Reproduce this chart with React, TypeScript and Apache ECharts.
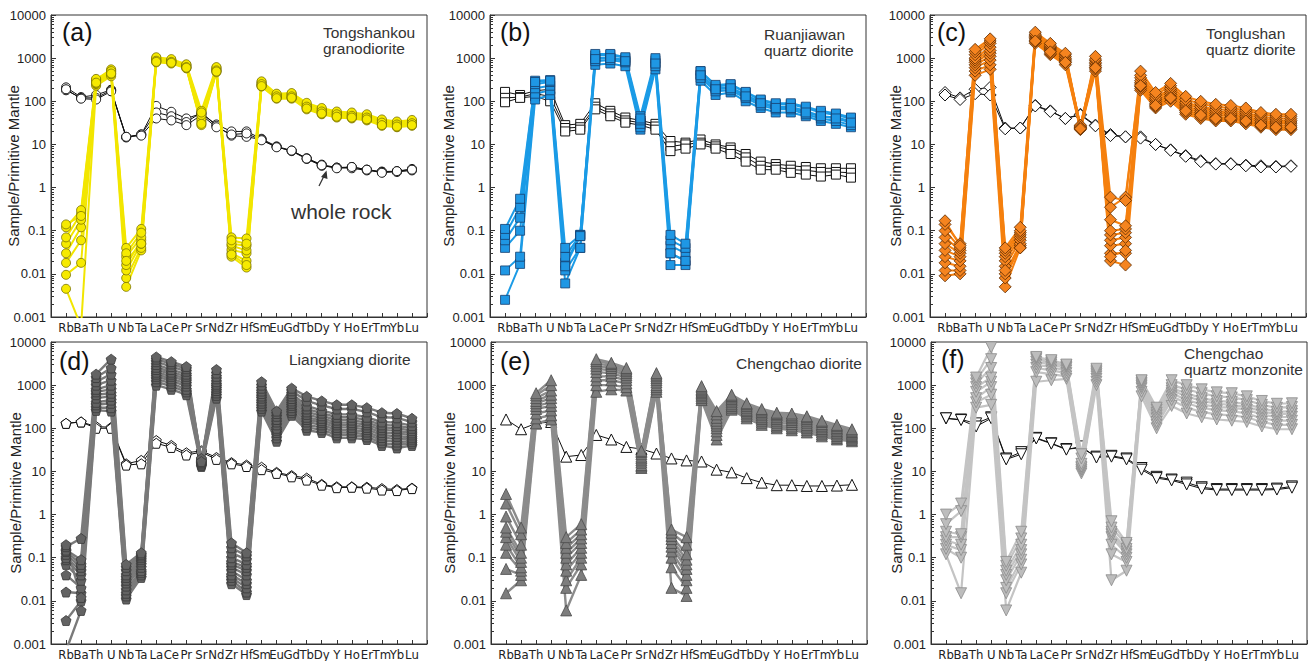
import React, { useEffect, useRef } from "react";
import * as echarts from "echarts";

// ---------- categories & tick labels ----------
const ELEMENTS = ["Rb", "Ba", "Th", "U", "Nb", "Ta", "La", "Ce", "Pr", "Sr", "Nd", "Zr", "Hf", "Sm", "Eu", "Gd", "Tb", "Dy", "Y", "Ho", "Er", "Tm", "Yb", "Lu"];
const Y_TICK_LABELS = ["0.001", "0.01", "0.1", "1", "10", "100", "1000", "10000"];

// ---------- (a) Tongshankou granodiorite ----------
const tongshankouRock = [
  [210, 125, 140, 185, 15, 17, 78, 57, 40, 52, 29, 20, 20, 13.5, 9, 7.2, 4.8, 3.4, 2.9, 3.0, 2.6, 2.35, 2.4, 2.7],
  [180, 120, 120, 180, 14.5, 17, 55, 45, 33, 55, 27, 16, 15, 13, 8.8, 7.0, 4.6, 3.2, 2.9, 2.8, 2.5, 2.3, 2.3, 2.5],
  [190, 115, 110, 170, 15, 16, 40, 36, 28, 48, 25, 17, 18, 12.5, 8.6, 7.2, 4.7, 3.3, 2.8, 3.0, 2.6, 2.2, 2.4, 2.6],
];
const tongshankouMineral = [
  [0.0045, 0.0006, 230, 380, 0.005, 0.035, 800, 750, 580, 28, 470, 0.025, 0.014, 220, 115, 115, 65, 50, 42, 40, 36, 27, 25, 27],
  [0.0095, 0.018, 250, 420, 0.008, 0.04, 850, 800, 600, 32, 500, 0.03, 0.02, 230, 120, 120, 70, 52, 45, 42, 38, 29, 26, 29],
  [0.018, 0.06, 260, 450, 0.012, 0.05, 900, 850, 640, 36, 530, 0.036, 0.03, 240, 125, 130, 72, 56, 48, 45, 40, 31, 28, 30],
  [0.03, 0.12, 280, 480, 0.016, 0.06, 950, 880, 680, 40, 560, 0.045, 0.035, 260, 135, 140, 78, 60, 50, 48, 44, 33, 30, 32],
  [0.05, 0.18, 300, 520, 0.025, 0.07, 1000, 900, 700, 48, 600, 0.05, 0.045, 280, 145, 150, 85, 66, 55, 52, 47, 36, 32, 35],
  [0.07, 0.25, 320, 550, 0.04, 0.11, 1050, 950, 720, 60, 620, 0.07, 0.066, 290, 150, 155, 92, 70, 58, 55, 50, 38, 34, 37],
  [0.12, 0.3, 330, 500, 0.03, 0.09, 870, 820, 620, 55, 520, 0.06, 0.05, 250, 130, 130, 75, 58, 50, 46, 42, 32, 29, 31],
  [0.14, 0.22, 270, 440, 0.02, 0.05, 820, 780, 600, 30, 490, 0.028, 0.016, 225, 118, 120, 68, 52, 44, 42, 38, 28, 26, 28],
];

// ---------- (b) Ruanjiawan quartz diorite ----------
const ruanjiawanRock = [
  [165, 140, 175, 190, 28, 30, 90, 60, 42, 36, 30, 12, 11, 13, 10, 8.5, 6, 4, 3.5, 3.2, 3, 2.8, 2.8, 2.8],
  [120, 125, 150, 130, 24, 25, 75, 52, 36, 32, 26, 9, 10, 11, 9, 7.5, 5, 3.2, 3, 2.6, 2.5, 2.3, 2.3, 2.2],
  [95, 120, 130, 100, 20, 22, 65, 45, 32, 28, 22, 7, 8, 10, 8, 6, 4, 2.6, 2.6, 2.2, 2, 1.8, 2, 1.7],
];
const ruanjiawanMineral = [
  [0.0025, 0.017, 110, 140, 0.006, 0.04, 700, 750, 650, 22, 550, 0.016, 0.016, 300, 140, 160, 100, 70, 55, 55, 45, 35, 30, 25],
  [0.012, 0.025, 150, 180, 0.012, 0.04, 850, 900, 800, 25, 650, 0.03, 0.02, 350, 170, 180, 120, 80, 65, 65, 50, 40, 35, 28],
  [0.04, 0.1, 200, 230, 0.018, 0.075, 1000, 1050, 900, 30, 800, 0.045, 0.03, 420, 200, 210, 140, 95, 75, 75, 60, 45, 42, 35],
  [0.06, 0.2, 250, 280, 0.025, 0.08, 1150, 1200, 1000, 36, 900, 0.06, 0.04, 500, 220, 240, 160, 105, 85, 85, 70, 55, 48, 40],
  [0.08, 0.35, 300, 310, 0.04, 0.08, 1250, 1250, 1050, 45, 1000, 0.08, 0.05, 500, 240, 250, 165, 110, 90, 90, 75, 60, 52, 42],
  [0.11, 0.55, 280, 300, 0.015, 0.075, 950, 1000, 850, 40, 750, 0.03, 0.02, 400, 190, 200, 130, 90, 70, 70, 55, 45, 40, 32],
];

// ---------- (c) Tonglushan quartz diorite ----------
const tonglushanRock = [
  [160, 120, 190, 210, 24, 24, 80, 60, 40, 50, 28, 17, 15, 15, 10, 7.5, 5.5, 4.2, 3.6, 3.6, 3.3, 3.2, 3.1, 3.2],
  [140, 110, 150, 140, 23, 24, 78, 58, 40, 48, 27, 16, 15, 14, 10, 7.3, 5.3, 4.0, 3.5, 3.5, 3.2, 3.0, 3.0, 3.1],
];
const tonglushanMineral = [
  [0.009, 0.01, 400, 550, 0.005, 0.04, 2200, 1200, 700, 22, 500, 0.02, 0.016, 180, 70, 100, 50, 40, 35, 35, 30, 25, 22, 22],
  [0.012, 0.012, 500, 700, 0.008, 0.045, 2400, 1300, 780, 23, 560, 0.03, 0.03, 200, 75, 115, 55, 44, 38, 38, 33, 27, 24, 24],
  [0.018, 0.015, 600, 900, 0.01, 0.05, 2600, 1450, 850, 24, 620, 0.045, 0.05, 220, 85, 130, 62, 50, 42, 42, 37, 30, 27, 27],
  [0.025, 0.02, 700, 1100, 0.015, 0.06, 2800, 1550, 900, 25, 680, 0.06, 0.07, 250, 90, 145, 70, 55, 47, 46, 41, 33, 30, 30],
  [0.035, 0.025, 800, 1300, 0.02, 0.07, 3000, 1650, 950, 26, 740, 0.08, 0.09, 270, 100, 160, 78, 60, 52, 50, 45, 36, 33, 33],
  [0.05, 0.03, 900, 1500, 0.025, 0.08, 3200, 1750, 1000, 27, 800, 0.1, 0.11, 300, 110, 180, 86, 68, 58, 55, 50, 40, 36, 36],
  [0.07, 0.035, 1000, 1800, 0.03, 0.09, 3400, 1850, 1100, 28, 880, 0.18, 0.13, 350, 120, 200, 95, 75, 65, 62, 55, 44, 40, 40],
  [0.1, 0.04, 1200, 2200, 0.035, 0.1, 3600, 2000, 1200, 24, 950, 0.35, 0.6, 400, 140, 230, 110, 88, 75, 70, 62, 50, 45, 45],
  [0.14, 0.05, 1400, 2500, 0.04, 0.12, 4000, 2200, 1300, 25, 1100, 0.6, 0.5, 500, 160, 260, 130, 100, 85, 80, 70, 55, 50, 50],
  [0.17, 0.045, 1600, 2800, 0.012, 0.04, 2500, 1400, 800, 23, 600, 0.025, 0.035, 230, 80, 120, 60, 48, 40, 40, 35, 28, 25, 25],
];

// ---------- (d) Liangxiang diorite ----------
const liangxiangRock = [
  [130, 140, 110, 105, 15, 18, 52, 40, 27, 30, 21, 16, 14, 12.5, 9.5, 8, 7, 5, 4.4, 4.4, 4.3, 4, 3.8, 4.1],
  [130, 140, 100, 100, 14, 15, 45, 36, 24, 28, 19, 15, 13, 11, 9, 7.5, 6.3, 4.8, 4.2, 4.3, 4.1, 3.7, 3.6, 4.0],
];
const liangxiangMineral = [
  [0.0007, 0.006, 260, 250, 0.011, 0.035, 1000, 800, 600, 13, 500, 0.025, 0.014, 250, 50, 200, 90, 80, 60, 60, 55, 40, 35, 40],
  [0.0035, 0.01, 300, 300, 0.013, 0.04, 1200, 950, 700, 14, 580, 0.03, 0.016, 290, 60, 230, 105, 92, 70, 70, 63, 46, 41, 45],
  [0.016, 0.015, 350, 380, 0.015, 0.045, 1400, 1100, 800, 15, 660, 0.035, 0.02, 330, 70, 260, 120, 105, 80, 80, 72, 53, 48, 50],
  [0.04, 0.02, 400, 450, 0.018, 0.05, 1600, 1250, 950, 16, 750, 0.04, 0.025, 380, 80, 300, 140, 120, 92, 92, 82, 61, 56, 56],
  [0.07, 0.03, 500, 550, 0.022, 0.06, 1800, 1400, 1100, 17, 850, 0.05, 0.03, 430, 90, 340, 160, 135, 105, 105, 93, 70, 65, 62],
  [0.09, 0.04, 600, 650, 0.026, 0.07, 2000, 1600, 1250, 18, 950, 0.06, 0.04, 500, 100, 380, 180, 150, 120, 120, 105, 80, 75, 70],
  [0.1, 0.05, 700, 800, 0.03, 0.08, 2300, 1800, 1400, 19, 1050, 0.07, 0.05, 560, 120, 430, 210, 170, 135, 135, 120, 92, 87, 78],
  [0.12, 0.06, 800, 1000, 0.035, 0.09, 2600, 2000, 1600, 20, 1200, 0.08, 0.06, 640, 140, 490, 240, 195, 155, 155, 135, 105, 100, 88],
  [0.14, 0.07, 1000, 1300, 0.04, 0.1, 3000, 2300, 1800, 14, 1400, 0.1, 0.07, 730, 160, 560, 280, 225, 180, 180, 155, 120, 115, 100],
  [0.15, 0.09, 1200, 1800, 0.05, 0.11, 3500, 2700, 2100, 15, 1600, 0.13, 0.09, 850, 190, 640, 330, 260, 210, 210, 180, 140, 135, 115],
  [0.18, 0.28, 1500, 2500, 0.06, 0.12, 4000, 3100, 2400, 16, 1900, 0.17, 0.11, 1000, 220, 740, 430, 340, 280, 280, 240, 180, 175, 140],
  [0.2, 0.012, 1800, 4000, 0.07, 0.13, 4500, 3500, 2700, 17, 2300, 0.22, 0.13, 1200, 250, 850, 550, 430, 350, 350, 300, 230, 220, 170],
];

// ---------- (e) Chengchao diorite ----------
const chengchaoDioriteRock = [
  [160, 95, 130, 140, 22, 24, 70, 55, 37, 33, 26, 20, 18, 17, 11, 9.5, 7, 5.5, 4.8, 4.8, 4.6, 4.6, 4.7, 4.9],
];
const chengchaoDioriteMineral = [
  [0.015, 0.03, 130, 160, 0.006, 0.04, 700, 800, 750, 12, 700, 0.02, 0.013, 450, 55, 270, 170, 120, 100, 90, 80, 65, 55, 50],
  [0.055, 0.04, 170, 200, 0.02, 0.07, 1000, 1000, 900, 13, 800, 0.06, 0.02, 500, 70, 300, 190, 135, 110, 100, 90, 72, 60, 54],
  [0.13, 0.05, 220, 260, 0.03, 0.1, 1300, 1300, 1100, 14, 900, 0.1, 0.03, 550, 85, 330, 210, 150, 120, 110, 100, 80, 66, 58],
  [0.2, 0.06, 280, 330, 0.05, 0.13, 1600, 1600, 1300, 16, 1000, 0.14, 0.04, 600, 100, 360, 230, 165, 135, 125, 110, 88, 72, 62],
  [0.3, 0.08, 330, 400, 0.07, 0.17, 2000, 1900, 1500, 18, 1150, 0.18, 0.055, 650, 115, 400, 250, 180, 150, 140, 120, 96, 79, 66],
  [0.4, 0.1, 380, 500, 0.1, 0.22, 2400, 2200, 1700, 20, 1300, 0.22, 0.07, 700, 130, 440, 270, 200, 165, 155, 135, 105, 86, 71],
  [0.5, 0.13, 430, 600, 0.13, 0.28, 2800, 2500, 1900, 22, 1450, 0.27, 0.09, 750, 150, 480, 300, 220, 180, 170, 150, 115, 94, 76],
  [0.9, 0.2, 500, 750, 0.17, 0.35, 3200, 2800, 2100, 25, 1600, 0.32, 0.12, 800, 175, 520, 330, 240, 200, 185, 165, 125, 102, 82],
  [1.8, 0.35, 580, 1000, 0.22, 0.45, 3600, 3100, 2300, 28, 1750, 0.38, 0.2, 880, 210, 560, 360, 260, 215, 200, 180, 140, 112, 88],
  [3, 0.5, 650, 1300, 0.3, 0.6, 4000, 3300, 2500, 30, 1900, 0.45, 0.3, 950, 250, 600, 380, 280, 230, 220, 190, 150, 120, 95],
];

// ---------- (f) Chengchao quartz monzonite ----------
const chengchaoMonzoniteRock = [
  [170, 160, 130, 180, 20, 28, 60, 45, 33, 35, 22, 23, 20, 12, 7.5, 6.5, 5.5, 4.3, 3.9, 3.9, 3.9, 3.9, 4, 4.5],
  [170, 155, 110, 170, 19, 25, 58, 44, 32, 38, 21, 22, 19, 11, 7, 6.2, 5.0, 4.0, 3.7, 3.7, 3.7, 3.7, 3.8, 4.2],
];
const chengchaoMonzoniteMineral = [
  [0.12, 0.015, 300, 350, 0.006, 0.045, 1200, 1300, 1400, 9, 1000, 0.03, 0.05, 550, 100, 330, 220, 180, 160, 150, 140, 110, 95, 95],
  [0.16, 0.1, 400, 600, 0.015, 0.07, 2000, 1800, 1600, 10, 1200, 0.12, 0.08, 700, 120, 450, 300, 240, 210, 200, 180, 140, 120, 120],
  [0.2, 0.15, 500, 900, 0.02, 0.09, 2500, 2200, 1900, 11, 1400, 0.2, 0.1, 850, 140, 550, 380, 300, 260, 250, 220, 170, 150, 150],
  [0.25, 0.2, 700, 1200, 0.03, 0.12, 3000, 2600, 2200, 12, 1600, 0.3, 0.12, 950, 170, 650, 450, 360, 310, 300, 270, 210, 180, 185],
  [0.3, 0.3, 900, 1500, 0.04, 0.15, 3500, 3000, 2500, 13, 1800, 0.35, 0.14, 1050, 200, 750, 550, 430, 370, 350, 310, 250, 210, 220],
  [0.4, 0.35, 1100, 2500, 0.05, 0.2, 4000, 3300, 2700, 15, 2000, 0.4, 0.16, 1150, 230, 850, 650, 500, 430, 410, 360, 290, 240, 250],
  [0.6, 1.2, 1300, 4000, 0.065, 0.28, 4300, 3600, 2900, 20, 2200, 0.5, 0.2, 1250, 270, 1000, 800, 650, 550, 520, 450, 350, 300, 310],
  [1, 1.8, 1500, 7500, 0.08, 0.4, 4500, 3800, 3000, 25, 2400, 0.7, 0.22, 1300, 300, 1300, 1000, 800, 680, 650, 550, 430, 370, 380],
];

// ---------- layout / style ----------
const PENTAGON = "path://M50,0 L97.6,34.5 L79.4,90.5 L20.6,90.5 L2.4,34.5 Z";

const PANELS = [
  { rect: { left: 51, top: 15, width: 376, height: 302 }, rock: tongshankouRock, mineral: tongshankouMineral, symbol: "circle", rotate: 0, size: 9, fill: "#f6ea00", border: "#7a7200", line: "#f2e600", lineWidth: 2, nameGap: 30, tag: "(a)", tagX: 62, tagY: 33, title: ["Tongshankou", "granodiorite"], titleX: 323, titleY: 32 },
  { rect: { left: 490, top: 15, width: 376, height: 302 }, rock: ruanjiawanRock, mineral: ruanjiawanMineral, symbol: "rect", rotate: 0, size: 9, fill: "#1f97e4", border: "#153f6e", line: "#1b9be6", lineWidth: 2, nameGap: 34, tag: "(b)", tagX: 500, tagY: 33, title: ["Ruanjiawan", "quartz diorite"], titleX: 764, titleY: 34 },
  { rect: { left: 930, top: 15, width: 376, height: 302 }, rock: tonglushanRock, mineral: tonglushanMineral, symbol: "diamond", rotate: 0, size: 12, fill: "#f5841f", border: "#5a2a00", line: "#f5800f", lineWidth: 2, nameGap: 27.5, tag: "(c)", tagX: 937, tagY: 33, title: ["Tonglushan", "quartz diorite"], titleX: 1206, titleY: 33 },
  { rect: { left: 51, top: 342, width: 376, height: 302 }, rock: liangxiangRock, mineral: liangxiangMineral, symbol: PENTAGON, rotate: 0, size: 10, fill: "#636363", border: "#3a3a3a", line: "#7a7a7a", lineWidth: 2.4, nameGap: 28.5, tag: "(d)", tagX: 59, tagY: 362, title: ["Liangxiang diorite"], titleX: 289, titleY: 359 },
  { rect: { left: 491, top: 342, width: 376, height: 302 }, rock: chengchaoDioriteRock, mineral: chengchaoDioriteMineral, symbol: "triangle", rotate: 0, size: 11, fill: "#7d7d7d", border: "#4a4a4a", line: "#8c8c8c", lineWidth: 2.4, nameGap: 34.5, tag: "(e)", tagX: 500, tagY: 362, title: ["Chengchao diorite"], titleX: 736, titleY: 363 },
  { rect: { left: 931, top: 342, width: 376, height: 302 }, rock: chengchaoMonzoniteRock, mineral: chengchaoMonzoniteMineral, symbol: "triangle", rotate: 180, size: 11, fill: "#bdbdbd", border: "#8a8a8a", line: "#c4c4c4", lineWidth: 2.2, nameGap: 27.5, tag: "(f)", tagX: 941, tagY: 360, title: ["Chengchao", "quartz monzonite"], titleX: 1184, titleY: 353 },
];

const AXIS_COLOR = "#333";
const TEXT_COLOR = "#222";
const SANS = "'Liberation Sans', Arial, sans-serif";
const NARROW = "'Liberation Sans Narrow', 'Arial Narrow', 'DejaVu Sans Condensed', sans-serif";

function buildOption() {
  const grid: any[] = [];
  const xAxis: any[] = [];
  const yAxis: any[] = [];
  const series: any[] = [];
  const graphic: any[] = [];

  PANELS.forEach((p, i) => {
    grid.push({ ...p.rect, show: true, borderColor: AXIS_COLOR, borderWidth: 1, backgroundColor: "transparent" });
    xAxis.push({
      type: "value", gridIndex: i, min: 0, max: ELEMENTS.length + 1, interval: 1,
      axisLine: { lineStyle: { color: AXIS_COLOR } },
      axisTick: { inside: true, length: 4, lineStyle: { color: AXIS_COLOR } },
      splitLine: { show: false },
      axisLabel: {
        margin: 4, fontSize: 13, color: TEXT_COLOR, fontFamily: NARROW,
        formatter: (v: number) => ELEMENTS[Math.round(v) - 1] ?? "",
      },
    });
    yAxis.push({
      type: "log", logBase: 10, gridIndex: i, min: 0.001, max: 10000, splitNumber: 7,
      name: "Sample/Primitive Mantle", nameLocation: "middle", nameGap: p.nameGap, nameMoveOverlap: false,
      nameTextStyle: { fontSize: 15, color: TEXT_COLOR, fontFamily: SANS },
      axisLine: { show: true, lineStyle: { color: AXIS_COLOR } },
      axisTick: { inside: true, length: 5, lineStyle: { color: AXIS_COLOR } },
      minorTick: { show: true, splitNumber: 9, length: 3, lineStyle: { color: AXIS_COLOR } },
      splitLine: { show: false },
      axisLabel: {
        margin: 5, fontSize: 13, color: TEXT_COLOR, fontFamily: SANS,
        formatter: (v: number) => Y_TICK_LABELS[Math.round(Math.log10(v)) + 3] ?? "",
      },
    });

    p.rock.forEach((vals) => {
      series.push({
        type: "line", xAxisIndex: i, yAxisIndex: i, clip: true, silent: true, z: 2,
        data: vals.map((v, k) => [k + 1, v]),
        symbol: p.symbol, symbolSize: p.size, symbolRotate: p.rotate,
        itemStyle: { color: "#ffffff", borderColor: "#111", borderWidth: 1 },
        lineStyle: { color: "#111", width: 1 },
      });
    });
    p.mineral.forEach((vals) => {
      series.push({
        type: "line", xAxisIndex: i, yAxisIndex: i, clip: true, silent: true, z: 3,
        data: vals.map((v, k) => [k + 1, v]),
        symbol: p.symbol, symbolSize: p.size, symbolRotate: p.rotate,
        itemStyle: { color: p.fill, borderColor: p.border, borderWidth: 0.8 },
        lineStyle: { color: p.line, width: p.lineWidth },
      });
    });

    graphic.push({
      type: "text", left: p.tagX, top: p.tagY - 14,
      style: { text: p.tag, fontSize: 25, fill: "#111", fontFamily: SANS },
    });
    p.title.forEach((line, li) => {
      graphic.push({
        type: "text", x: p.titleX, y: p.titleY + li * 16,
        style: { text: line, fontSize: 15.5, fill: "#333", textVerticalAlign: "middle", fontFamily: SANS },
      });
    });
  });

  // "whole rock" annotation with arrow in panel (a)
  graphic.push({
    type: "text", x: 291, y: 211,
    style: { text: "whole rock", fontSize: 21, fill: "#333", textVerticalAlign: "middle", fontFamily: SANS },
  });
  graphic.push({ type: "line", shape: { x1: 319, y1: 186, x2: 324.5, y2: 175 }, style: { stroke: "#333", lineWidth: 1.3 } });
  graphic.push({ type: "polygon", shape: { points: [[326.5, 170.5], [321, 177], [327.5, 179]] }, style: { fill: "#333" } });

  return { animation: false, backgroundColor: "#fff", grid, xAxis, yAxis, series, graphic };
}

export default function App() {
  const ref = useRef<HTMLDivElement>(null);
  useEffect(() => {
    if (!ref.current) return;
    const chart = echarts.init(ref.current, null, { renderer: "svg" });
    chart.setOption(buildOption() as any);
    return () => chart.dispose();
  }, []);
  return <div ref={ref} style={{ position: "absolute", left: 0, top: 0, width: 1315, height: 661 }} />;
}
